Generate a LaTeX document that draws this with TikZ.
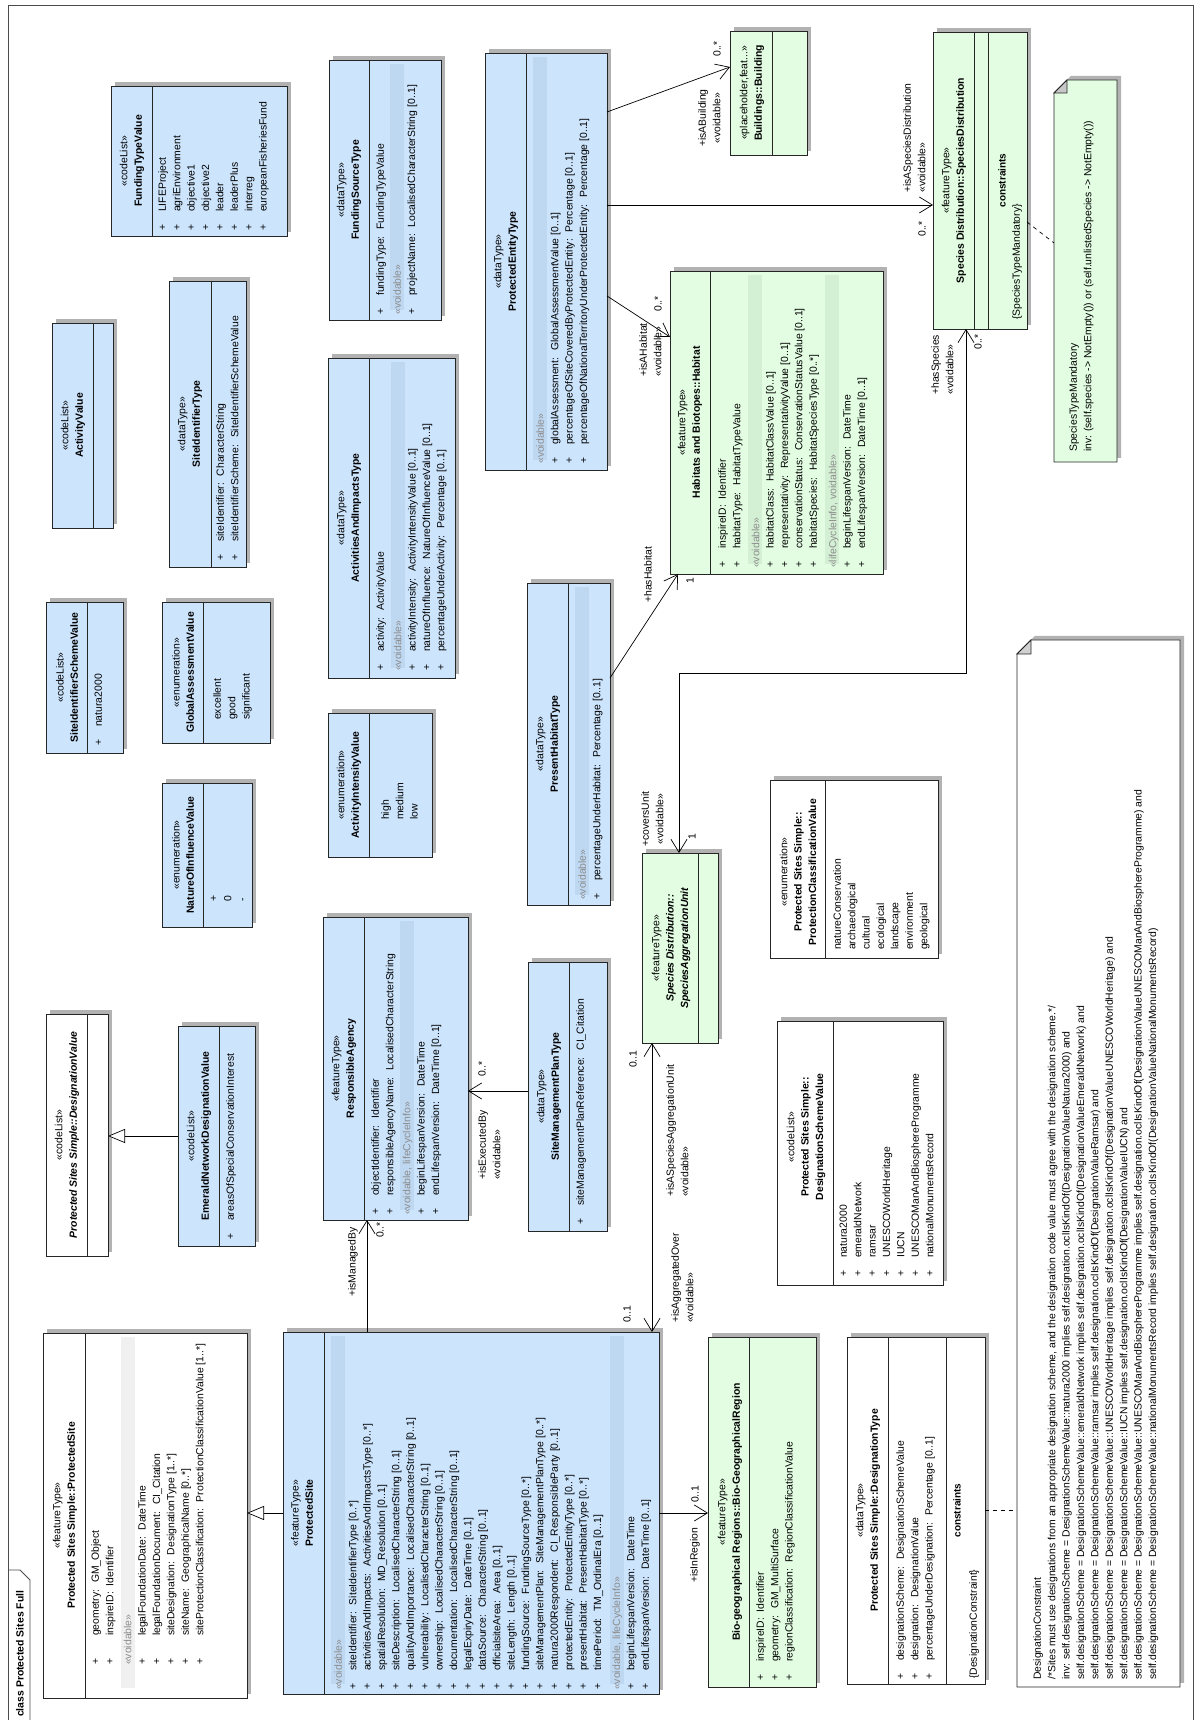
\documentclass[tikz,border=0pt]{standalone}
\usepackage{fontspec}
\setmainfont{Liberation Sans}
\usetikzlibrary{arrows.meta, shadows}
\definecolor{clsblue}{RGB}{204,228,252}
\definecolor{clsgreen}{RGB}{226,253,226}
\definecolor{bandblue}{RGB}{190,216,242}
\definecolor{bandgreen}{RGB}{212,240,212}
\definecolor{bandwhite}{RGB}{240,240,240}
\definecolor{grptext}{RGB}{140,140,140}
\definecolor{shade}{RGB}{178,178,178}
\newcommand{\pl}[1][19pt]{\strut\makebox[#1][l]{+}}
\newcommand{\grp}[1]{\strut\textcolor{grptext}{«#1»}}
\tikzset{
  cls/.style={draw=black!85, line width=0.9pt, anchor=south west, inner sep=0pt, outer sep=0pt,
    drop shadow={shadow xshift=4pt, shadow yshift=4pt, fill=shade, opacity=1}},
  note/.style={anchor=south west, inner sep=0pt, outer sep=0pt},
  cmp/.style={draw=black!85, line width=0.9pt},
  hd/.style={rotate=90, align=center, inner sep=0pt},
  bd/.style={rotate=90, anchor=north west, align=left, inner sep=0pt},
  lbl/.style={rotate=90, anchor=west, inner sep=0pt},
  assoc/.style={line width=0.7pt, -{Straight Barb[length=13pt,width=16pt]}},
  nav2/.style={line width=0.7pt, {Straight Barb[length=13pt,width=16pt]}-{Straight Barb[length=13pt,width=16pt]}},
  gen/.style={line width=0.7pt, -{Triangle[open,length=17pt,width=14pt,fill=white]}},
  link/.style={line width=0.7pt, dash pattern=on 4pt off 4pt},
}
\begin{document}
\begin{tikzpicture}[x=1pt, y=1pt, font=\fontsize{10.4}{14.4}\selectfont]
\useasboundingbox (0,0) rectangle (1200,1720);
\fill[white] (0,0) rectangle (1200,1720);
\draw[line width=0.8pt, draw=black!70] (8,0) -- (8,1715) -- (1193,1715) -- (1193,0);
\draw[line width=0.8pt, draw=black!70] (8,150) -- (20,150) -- (30,140) -- (30,0);
\node[lbl, font=\fontsize{10.4}{14.4}\selectfont\bfseries] (frame-t) at (20,3) {class Protected Sites Full};

\node[cls, fill=white, minimum width=204pt, minimum height=365pt] (psS) at (43,22) {};
\draw[cmp] ([xshift=42pt]psS.south west) -- ([xshift=42pt]psS.north west);
\fill[bandwhite] (121,32) rectangle (135,383);
\node[hd] (psS-h) at (65,204.5) {«featureType»\\\textbf{Protected Sites Simple::ProtectedSite}};
\node[bd] (psS-b) at (88.6,55) {\pl[26pt] geometry:~ GM\_Object\\ \pl[26pt] inspireID:~ Identifier\\[3.6pt]
  \grp{voidable}\\ \pl[26pt] legalFoundationDate:~ DateTime\\ \pl[26pt] legalFoundationDocument:~ CI\_Citation\\
  \pl[26pt] siteDesignation:~ DesignationType [1..*]\\ \pl[26pt] siteName:~ GeographicalName [0..*]\\
  \pl[26pt] siteProtectionClassification:~ ProtectionClassificationValue [1..*]};

\node[cls, fill=clsblue, minimum width=376pt, minimum height=362pt] (ps) at (283,26) {};
\draw[cmp] ([xshift=41pt]ps.south west) -- ([xshift=41pt]ps.north west);
\fill[bandblue] (331,36) rectangle (345,384);
\fill[bandblue] (610,36) rectangle (624,384);
\node[hd] (ps-h) at (302,207) {«featureType»\\\textbf{ProtectedSite}};
\node[bd] (ps-b) at (331.6,30) {\grp{voidable}\\
  \pl siteIdentifier:~ SiteIdentifierType [0..*]\\
  \pl activitiesAndImpacts:~ ActivitiesAndImpactsType [0..*]\\
  \pl spatialResolution:~ MD\_Resolution [0..1]\\
  \pl siteDescription:~ LocalisedCharacterString [0..1]\\
  \pl qualityAndImportance:~ LocalisedCharacterString [0..1]\\
  \pl vulnerability:~ LocalisedCharacterString [0..1]\\
  \pl ownership:~ LocalisedCharacterString [0..1]\\
  \pl documentation:~ LocalisedCharacterString [0..1]\\
  \pl legalExpiryDate:~ DateTime [0..1]\\
  \pl dataSource:~ CharacterString [0..1]\\
  \pl officialsiteArea:~ Area [0..1]\\
  \pl siteLength:~ Length [0..1]\\
  \pl fundingSource:~ FundingSourceType [0..*]\\
  \pl siteManagementPlan:~ SiteManagementPlanType [0..*]\\
  \pl natura2000Respondent:~ CI\_ResponsibleParty [0..1]\\
  \pl protectedEntity:~ ProtectedEntityType [0..*]\\
  \pl presentHabitat:~ PresentHabitatType [0..*]\\
  \pl timePeriod:~ TM\_OrdinalEra [0..1]\\[4.6pt]
  \grp{voidable, lifeCycleInfo}\\
  \pl beginLifespanVersion:~ DateTime\\
  \pl endLifespanVersion:~ DateTime [0..1]};

\node[cls, fill=clsgreen, minimum width=108pt, minimum height=350pt] (bgr) at (708,33) {};
\draw[cmp] ([xshift=41pt]bgr.south west) -- ([xshift=41pt]bgr.north west);
\node[hd] (bgr-h) at (730,208) {«featureType»\\\textbf{Bio-geographical Regions::Bio-GeographicalRegion}};
\node[bd] (bgr-b) at (753.6,39) {\pl inspireID:~ Identifier\\ \pl geometry:~ GM\_MultiSurface\\
  \pl regionClassification:~ RegionClassificationValue};

\node[cls, fill=white, minimum width=138pt, minimum height=347pt] (dt) at (847,36) {};
\draw[cmp] ([xshift=41pt]dt.south west) -- ([xshift=41pt]dt.north west);
\draw[cmp] ([xshift=99pt]dt.south west) -- ([xshift=99pt]dt.north west);
\node[hd] (dt-h) at (868,209.5) {«dataType»\\\textbf{Protected Sites Simple::DesignationType}};
\node[bd] (dt-b) at (893.6,40) {\pl designationScheme:~ DesignationSchemeValue\\ \pl designation:~ DesignationValue\\
  \pl percentageUnderDesignation:~ Percentage [0..1]};
\node[rotate=90, font=\bfseries] (dt-c) at (957,209.5) {constraints};
\node[bd] (dt-k) at (966.6,41) {\strut\{DesignationConstraint\}};

\node[note, minimum width=163pt, minimum height=1047pt] (note1) at (1017,33) {};
\draw[cmp, fill=white, preaction={fill=shade, transform canvas={shift={(4pt,4pt)}}}] (note1.south west)
  -- ([yshift=-14pt]note1.north west) -- ([xshift=14pt]note1.north west) -- (note1.north east) -- (note1.south east) -- cycle;
\draw[cmp, fill=black!18] ([yshift=-14pt]note1.north west) -- ([xshift=14pt,yshift=-14pt]note1.north west) -- ([xshift=14pt]note1.north west) -- cycle;
\node[bd] (note1-t) at (1030.6,40) {\strut DesignationConstraint\\
  /*Sites must use designations from an appropriate designation scheme, and the designation code value must agree with the designation scheme.*/\\
  inv: self.designationScheme = DesignationSchemeValue::natura2000 implies self.designation.oclIsKindOf(DesignationValueNatura2000) and\\
  self.designationScheme = DesignationSchemeValue::emeraldNetwork implies self.designation.oclIsKindOf(DesignationValueEmeraldNetwork) and\\
  self.designationScheme = DesignationSchemeValue::ramsar implies self.designation.oclIsKindOf(DesignationValueRamsar) and\\
  self.designationScheme = DesignationSchemeValue::UNESCOWorldHeritage implies self.designation.oclIsKindOf(DesignationValueUNESCOWorldHeritage) and\\
  self.designationScheme = DesignationSchemeValue::IUCN implies self.designation.oclIsKindOf(DesignationValueIUCN) and\\
  self.designationScheme = DesignationSchemeValue::UNESCOManAndBiosphereProgramme implies self.designation.oclIsKindOf(DesignationValueUNESCOManAndBiosphereProgramme) and\\
  self.designationScheme = DesignationSchemeValue::nationalMonumentsRecord implies self.designation.oclIsKindOf(DesignationValueNationalMonumentsRecord)};

\node[cls, fill=clsgreen, minimum width=76pt, minimum height=190pt] (sau) at (642,677) {};
\draw[cmp] ([xshift=56pt]sau.south west) -- ([xshift=56pt]sau.north west);
\node[hd] (sau-h) at (671,772) {«featureType»\\\textbf{\textit{Species Distribution::}}\\\textbf{\textit{SpeciesAggregationUnit}}};

\node[cls, fill=white, minimum width=168pt, minimum height=178pt] (pct) at (770,762) {};
\draw[cmp] ([xshift=55pt]pct.south west) -- ([xshift=55pt]pct.north west);
\node[hd] (pct-h) at (798,848) {«enumeration»\\\textbf{Protected Sites Simple::}\\\textbf{ProtectionClassificationValue}};
\node[bd] (pct-b) at (830.6,770) {\strut natureConservation\\archaeological\\cultural\\ecological\\landscape\\environment\\geological};

\node[cls, fill=white, minimum width=166pt, minimum height=264pt] (dsv) at (777,435) {};
\draw[cmp] ([xshift=56pt]dsv.south west) -- ([xshift=56pt]dsv.north west);
\node[hd] (dsv-h) at (806,583) {«codeList»\\\textbf{Protected Sites Simple::}\\\textbf{DesignationSchemeValue}};
\node[bd] (dsv-b) at (836.6,443) {\pl natura2000\\ \pl emeraldNetwork\\ \pl ramsar\\ \pl UNESCOWorldHeritage\\ \pl IUCN\\
  \pl UNESCOManAndBiosphereProgramme\\ \pl nationalMonumentsRecord};

\node[cls, fill=clsblue, minimum width=83pt, minimum height=322pt] (pht) at (527,815) {};
\draw[cmp] ([xshift=41pt]pht.south west) -- ([xshift=41pt]pht.north west);
\fill[bandblue] (575,825) rectangle (589,1133);
\node[hd] (pht-h) at (548,976) {«dataType»\\\textbf{PresentHabitatType}};
\node[bd] (pht-b) at (575.6,820) {\grp{voidable}\\ \pl percentageUnderHabitat:~ Percentage [0..1]};

\node[cls, fill=clsblue, minimum width=79pt, minimum height=269pt] (smp) at (528,489) {};
\draw[cmp] ([xshift=41pt]smp.south west) -- ([xshift=41pt]smp.north west);
\node[hd] (smp-h) at (549,623.5) {«dataType»\\\textbf{SiteManagementPlanType}};
\node[bd] (smp-b) at (573.6,495) {\pl siteManagementPlanReference:~ CI\_Citation};

\node[cls, fill=clsblue, minimum width=145pt, minimum height=303pt] (ra) at (323,500) {};
\draw[cmp] ([xshift=41pt]ra.south west) -- ([xshift=41pt]ra.north west);
\fill[bandblue] (400,510) rectangle (414,799);
\node[hd] (ra-h) at (344,651.5) {«featureType»\\\textbf{ResponsibleAgency}};
\node[bd] (ra-b) at (368.6,505) {\pl objectIdentifier:~ Identifier\\ \pl responsibleAgencyName:~ LocalisedCharacterString\\[2.6pt]
  \grp{voidable, lifeCycleInfo}\\ \pl beginLifespanVersion:~ DateTime\\ \pl endLifespanVersion:~ DateTime [0..1]};

\node[cls, fill=clsblue, minimum width=77pt, minimum height=220pt] (enw) at (178,474) {};
\draw[cmp] ([xshift=41pt]enw.south west) -- ([xshift=41pt]enw.north west);
\node[hd] (enw-h) at (199,584) {«codeList»\\\textbf{EmeraldNetworkDesignationValue}};
\node[bd] (enw-b) at (223.6,480) {\pl areasOfSpecialConservationInterest};

\node[cls, fill=white, minimum width=62pt, minimum height=242pt] (dv) at (46,464) {};
\draw[cmp] ([xshift=41pt]dv.south west) -- ([xshift=41pt]dv.north west);
\node[hd] (dv-h) at (67,585) {«codeList»\\\textbf{\textit{Protected Sites Simple::DesignationValue}}};

\node[cls, fill=clsblue, minimum width=90pt, minimum height=144pt] (noi) at (162,793) {};
\draw[cmp] ([xshift=41pt]noi.south west) -- ([xshift=41pt]noi.north west);
\node[hd] (noi-h) at (183,865) {«enumeration»\\\textbf{NatureOfInfluenceValue}};
\node[bd] (noi-b) at (206.6,818) {\strut +\\0\\-};

\node[cls, fill=clsblue, minimum width=77pt, minimum height=151pt] (sisv) at (46,967) {};
\draw[cmp] ([xshift=41pt]sisv.south west) -- ([xshift=41pt]sisv.north west);
\node[hd] (sisv-h) at (67,1042.5) {«codeList»\\\textbf{SiteIdentifierSchemeValue}};
\node[bd] (sisv-b) at (91.6,974) {\pl natura2000};

\node[cls, fill=clsblue, minimum width=108pt, minimum height=141pt] (gav) at (162,977) {};
\draw[cmp] ([xshift=41pt]gav.south west) -- ([xshift=41pt]gav.north west);
\node[hd] (gav-h) at (183,1047.5) {«enumeration»\\\textbf{GlobalAssessmentValue}};
\node[bd] (gav-b) at (210.6,1000) {\strut excellent\\good\\significant};

\node[cls, fill=clsblue, minimum width=104pt, minimum height=144pt] (aiv) at (328,863) {};
\draw[cmp] ([xshift=41pt]aiv.south west) -- ([xshift=41pt]aiv.north west);
\node[hd] (aiv-h) at (349,935) {«enumeration»\\\textbf{ActivityIntensityValue}};
\node[bd] (aiv-b) at (378.6,900) {\strut high\\medium\\low};

\node[cls, fill=clsblue, minimum width=127pt, minimum height=320pt] (ait) at (328,1042) {};
\draw[cmp] ([xshift=41pt]ait.south west) -- ([xshift=41pt]ait.north west);
\fill[bandblue] (391,1052) rectangle (405,1358);
\node[hd] (ait-h) at (349,1202) {«dataType»\\\textbf{ActivitiesAndImpactsType}};
\node[bd] (ait-b) at (373.6,1049) {\pl activity:~ ActivityValue\\[3pt] \grp{voidable}\\
  \pl activityIntensity:~ ActivityIntensityValue [0..1]\\ \pl natureOfInfluence:~ NatureOfInfluenceValue [0..1]\\
  \pl percentageUnderActivity:~ Percentage [0..1]};

\node[cls, fill=clsblue, minimum width=61pt, minimum height=205pt] (av) at (52,1192) {};
\draw[cmp] ([xshift=41pt]av.south west) -- ([xshift=41pt]av.north west);
\node[hd] (av-h) at (73,1294.5) {«codeList»\\\textbf{ActivityValue}};

\node[cls, fill=clsblue, minimum width=77pt, minimum height=286pt] (sit) at (169,1153) {};
\draw[cmp] ([xshift=42pt]sit.south west) -- ([xshift=42pt]sit.north west);
\node[hd] (sit-h) at (190,1296) {«dataType»\\\textbf{SiteIdentifierType}};
\node[bd] (sit-b) at (213.6,1159) {\pl siteIdentifier:~ CharacterString\\ \pl siteIdentifierScheme:~ SiteIdentifierSchemeValue};

\node[cls, fill=clsblue, minimum width=176pt, minimum height=150pt] (ftv) at (111,1484) {};
\draw[cmp] ([xshift=41pt]ftv.south west) -- ([xshift=41pt]ftv.north west);
\node[hd] (ftv-h) at (132,1559) {«codeList»\\\textbf{FundingTypeValue}};
\node[bd] (ftv-b) at (155.6,1489) {\pl LIFEProject\\ \pl agriEnvironment\\ \pl objective1\\ \pl objective2\\ \pl leader\\
  \pl leaderPlus\\ \pl interreg\\ \pl europeanFisheriesFund};

\node[cls, fill=clsblue, minimum width=112pt, minimum height=260pt] (fst) at (329,1400) {};
\draw[cmp] ([xshift=40pt]fst.south west) -- ([xshift=40pt]fst.north west);
\fill[bandblue] (390,1410) rectangle (404,1656);
\node[hd] (fst-h) at (349,1530) {«dataType»\\\textbf{FundingSourceType}};
\node[bd] (fst-b) at (373.6,1405) {\pl fundingType:~ FundingTypeValue\\[2.5pt] \grp{voidable}\\
  \pl projectName:~ LocalisedCharacterString [0..1]};

\node[cls, fill=clsblue, minimum width=122pt, minimum height=417pt] (pet) at (485,1250) {};
\draw[cmp] ([xshift=41pt]pet.south west) -- ([xshift=41pt]pet.north west);
\fill[bandblue] (533,1260) rectangle (547,1663);
\node[hd] (pet-h) at (506,1458.5) {«dataType»\\\textbf{ProtectedEntityType}};
\node[bd] (pet-b) at (533.6,1256) {\grp{voidable}\\ \pl globalAssessment:~ GlobalAssessmentValue [0..1]\\
  \pl percentageOfSiteCoveredByProtectedEntity:~ Percentage [0..1]\\
  \pl percentageOfNationalTerritoryUnderProtectedEntity:~ Percentage [0..1]};

\node[cls, fill=clsgreen, minimum width=213pt, minimum height=303pt] (hab) at (670,1146) {};
\draw[cmp] ([xshift=40pt]hab.south west) -- ([xshift=40pt]hab.north west);
\fill[bandgreen] (748,1156) rectangle (762,1445);
\fill[bandgreen] (825,1156) rectangle (839,1445);
\node[hd] (hab-h) at (690,1297.5) {«featureType»\\\textbf{Habitats and Biotopes::Habitat}};
\node[bd] (hab-b) at (715.6,1152) {\pl inspireID:~ Identifier\\ \pl habitatType:~ HabitatTypeValue\\[4.6pt]
  \grp{voidable}\\ \pl habitatClass:~ HabitatClassValue [0..1]\\ \pl representativity:~ RepresentativityValue [0..1]\\
  \pl conservationStatus:~ ConservationStatusValue [0..1]\\ \pl habitatSpecies:~ HabitatSpeciesType [0..*]\\[5pt]
  \grp{lifeCycleInfo, voidable}\\ \pl beginLifespanVersion:~ DateTime\\ \pl endLifespanVersion:~ DateTime [0..1]};

\node[cls, fill=clsgreen, minimum width=77pt, minimum height=124pt] (bld) at (730,1565) {};
\draw[cmp] ([xshift=42pt]bld.south west) -- ([xshift=42pt]bld.north west);
\node[hd] (bld-h) at (752,1627) {«placeholder,feat...»\\\textbf{Buildings::Building}};

\node[cls, fill=clsgreen, minimum width=94pt, minimum height=297pt] (sd) at (933,1391) {};
\draw[cmp] ([xshift=41pt]sd.south west) -- ([xshift=41pt]sd.north west);
\draw[cmp] ([xshift=55pt]sd.south west) -- ([xshift=55pt]sd.north west);
\node[hd] (sd-h) at (954,1539.5) {«featureType»\\\textbf{Species Distribution::SpeciesDistribution}};
\node[rotate=90, font=\bfseries] (sd-c) at (1002,1539.5) {constraints};
\node[bd] (sd-k) at (1009.6,1400) {\strut\{SpeciesTypeMandatory\}};

\node[note, minimum width=63pt, minimum height=382pt] (note2) at (1054,1258) {};
\draw[cmp, fill=clsgreen, preaction={fill=shade, transform canvas={shift={(4pt,4pt)}}}] (note2.south west)
  -- ([yshift=-13pt]note2.north west) -- ([xshift=13pt]note2.north west) -- (note2.north east) -- (note2.south east) -- cycle;
\draw[cmp, fill=black!22] ([yshift=-13pt]note2.north west) -- ([xshift=13pt,yshift=-13pt]note2.north west) -- ([xshift=13pt]note2.north west) -- cycle;
\node[bd] (note2-t) at (1066.6,1268) {\strut SpeciesTypeMandatory\\
  inv: (self.species -> NotEmpty()) or (self.unlistedSpecies -> NotEmpty())};

\draw[gen] (ps.west) -- (ps.west -| psS.east);
\draw[gen] (enw.west) -- (enw.west -| dv.east);
\draw[assoc] (ps.east) -- (ps.east -| bgr.west);
\draw[nav2] ([xshift=-7pt]ps.north east) -- ([xshift=-7pt]ps.north east |- sau.south);
\draw[assoc] ([xshift=84pt]ps.north west) -- ([xshift=84pt]ps.north west |- ra.south);
\draw[assoc] ([yshift=5.5pt]smp.west) -- ([yshift=5.5pt]smp.west -| ra.east);
\draw[assoc] ([yshift=66pt]pht.east) -- ([xshift=8pt]hab.south west);
\draw[nav2] ([xshift=37pt]sau.north west) -- ++(0,180) -| ([xshift=33pt]sd.south west);
\draw[assoc] ([yshift=-34.5pt]pet.east) -- ([yshift=-66pt]hab.north west);
\draw[assoc] ([yshift=56.5pt]pet.east) -- ([yshift=56.5pt]pet.east -| sd.west);
\draw[assoc] ([yshift=149.5pt]pet.east) -- ([yshift=26pt]bld.west);
\draw[link] (dt.east) -- (dt.east -| note1.west);
\draw[link] ([yshift=-41.5pt]sd.east) -- ([yshift=28pt]note2.west);

\node[lbl] (r-inreg) at (695,137) {+isInRegion};
\node[lbl] (m-inreg) at (695,217) {0..1};
\node[bd] (r-aggov) at (668.6,397) {\strut+isAggregatedOver\\«voidable»};
\node[lbl] (m-aggov) at (627,397) {0..1};
\node[bd] (r-asau) at (663.6,523) {\strut+isASpeciesAggregationUnit\\«voidable»};
\node[lbl] (m-asau) at (633,652) {0..1};
\node[lbl] (r-manby) at (353,423) {+isManagedBy};
\node[lbl] (m-manby) at (380,482) {0..*};
\node[bd] (r-exby) at (475.6,540) {\strut+isExecutedBy\\«voidable»};
\node[lbl] (m-exby) at (482,643) {0..*};
\node[lbl] (r-hashab) at (648,1117) {+hasHabitat};
\node[lbl] (m-hashab) at (690,1136) {1};
\node[bd] (r-isahab) at (636.6,1343) {\strut+isAHabitat\\«voidable»};
\node[lbl] (m-isahab) at (658,1408) {0..*};
\node[bd, align=center] (r-isabld) at (695.6,1573) {\strut+isABuilding\\«voidable»};
\node[lbl] (m-isabld) at (717,1663) {0..*};
\node[bd] (r-isasd) at (900.6,1527) {\strut+isASpeciesDistribution\\«voidable»};
\node[lbl] (m-isasd) at (922,1483) {0..*};
\node[bd, align=center] (r-cov) at (638.6,873) {\strut+coversUnit\\«voidable»};
\node[lbl] (m-cov) at (692,880) {1};
\node[bd] (r-hassp) at (928.6,1325) {\strut+hasSpecies\\«voidable»};
\node[lbl] (m-hassp) at (978,1370) {0..*};
\end{tikzpicture}
\end{document}
